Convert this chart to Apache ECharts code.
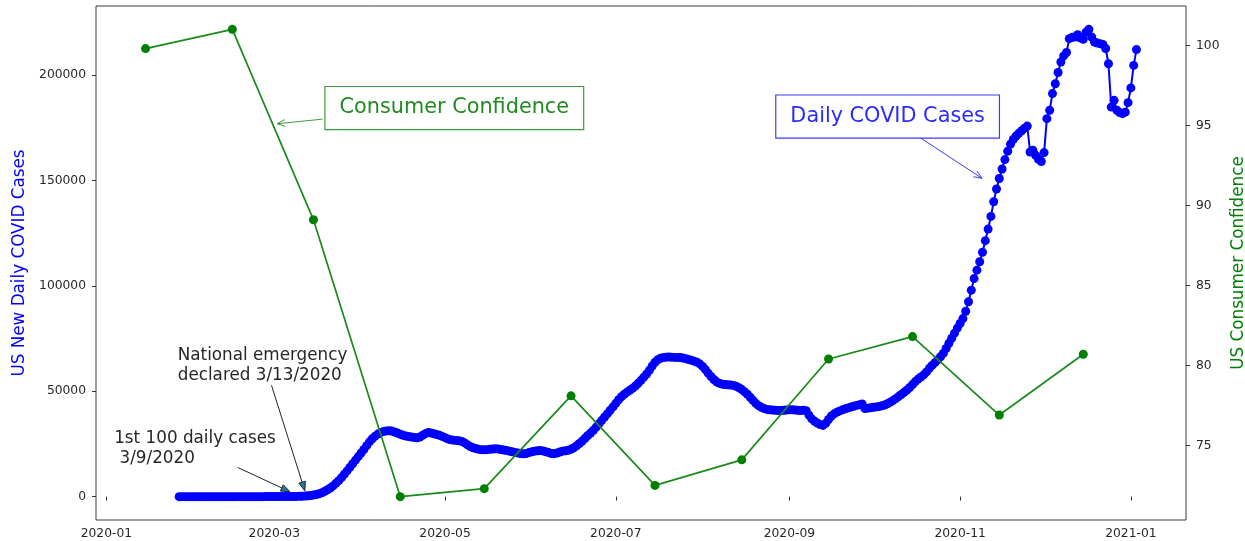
<!DOCTYPE html>
<html lang="en">
<head>
<meta charset="UTF-8">
<title>US daily COVID cases vs consumer confidence</title>
<script src="https://cdn.jsdelivr.net/npm/echarts@6/dist/echarts.min.js"></script>
<style>
  body { margin: 0; background: #fff; }
  #chart { width: 1245px; height: 541px; }
</style>
</head>
<body>
<div id="chart"></div>
<script>
// consumer confidence, one reading per month (plotted mid-month)
var confDates = ['2020-01-15', '2020-02-15', '2020-03-15', '2020-04-15', '2020-05-15', '2020-06-15',
                 '2020-07-15', '2020-08-15', '2020-09-15', '2020-10-15', '2020-11-15', '2020-12-15'];
var confValues = [99.8, 101.0, 89.1, 71.8, 72.3, 78.1, 72.5, 74.1, 80.4, 81.8, 76.9, 80.7];

// US new daily cases (smoothed), one value per day starting 2020-01-27
var casesStart = [2020, 0, 27];
var casesJan = [1, 1, 1, 1, 1];
var casesFeb = [1, 1, 1, 1, 1, 1, 1, 1, 1, 1, 1, 1, 1, 1, 1, 1, 1, 1, 1, 1, 2, 2, 3, 3, 4, 5, 6, 7, 8];
var casesMar = [10, 13, 17, 22, 30, 40, 55, 75, 100, 140, 200, 290, 400, 560, 750, 1000, 1350, 1850, 2500, 3250,
                4100, 5100, 6300, 7600, 9000, 10600, 12200, 13900, 15600, 17300, 19000];
var casesApr = [20700, 22400, 24200, 26000, 27500, 28700, 29700, 30400, 30900, 31200, 31300, 31100, 30700, 30200, 29600,
                29100, 28800, 28500, 28300, 28100, 27900, 28300, 29100, 29900, 30500, 30200, 29800, 29500, 29100, 28600];
var casesMay = [28000, 27400, 27000, 26800, 26700, 26500, 26200, 25500, 24600, 23800, 23200, 22800, 22500, 22300, 22200,
                22300, 22500, 22600, 22700, 22600, 22400, 22100, 21900, 21600, 21300, 21000, 20700, 20500, 20300, 20500, 20900];
var casesJun = [21300, 21600, 21800, 21900, 21700, 21300, 20900, 20500, 20400, 20700, 21200, 21600, 21800, 22000, 22500,
                23200, 24100, 25200, 26400, 27700, 29000, 30200, 31500, 33000, 34600, 36200, 37800, 39400, 41000, 42600];
var casesJul = [44300, 46000, 47400, 48600, 49600, 50500, 51400, 52500, 53800, 55200, 56700, 58200, 60000, 62000, 63800,
                65000, 65700, 66000, 66200, 66300, 66200, 66100, 66100, 66000, 65800, 65500, 65100, 64700, 64300, 63800, 63000];
var casesAug = [61800, 60300, 58600, 57000, 55600, 54500, 53800, 53400, 53200, 53100, 53000, 52800, 52400, 51700, 50800,
                49800, 48600, 47200, 45700, 44300, 43200, 42400, 41800, 41400, 41200, 41100, 41000, 40900, 40900, 41000, 41100];
var casesSep = [41300, 41200, 41100, 41000, 40900, 41000, 40800, 38700, 36900, 35800, 34900, 34200, 33800, 34800, 36600,
                38300, 39300, 40100, 40700, 41200, 41700, 42100, 42500, 42900, 43300, 43600, 44000, 41800, 42000, 42200];
var casesOct = [42400, 42600, 42800, 43100, 43500, 44100, 44800, 45600, 46500, 47500, 48500, 49500, 50600, 51800, 53200,
                54600, 55800, 56800, 57800, 59200, 60900, 62300, 63600, 65000, 66400, 68000, 70300, 72800, 75200, 77600, 80000];
var casesNov = [82200, 84500, 88000, 92500, 98000, 103500, 107500, 111500, 116000, 121500, 127000, 133000, 140000, 146000, 151000,
                155500, 160000, 164000, 167300, 169500, 171200, 172500, 173700, 174900, 175900, 163600, 164400, 162000, 160100, 159100];
var casesDec = [163300, 179400, 183400, 191300, 196000, 201300, 206300, 209200, 210800, 217400, 218000, 218200, 219300, 217700, 217100,
                220500, 221800, 218200, 215800, 215300, 215000, 214600, 212700, 205500, 184900, 188100, 183400, 182300, 181800, 182500, 187000];
var casesJan21 = [194000, 204700, 212200];

// axis ticks
var xTickDates = [[2020, 0, 1], [2020, 2, 1], [2020, 4, 1], [2020, 6, 1], [2020, 8, 1], [2020, 10, 1], [2021, 0, 1]];
var leftTicks = [0, 50000, 100000, 150000, 200000];
var rightTicks = [75, 80, 85, 90, 95, 100];

var FONT = 'DejaVu Sans';
var DAY = 86400000;

var allCases = [].concat(casesJan, casesFeb, casesMar, casesApr, casesMay, casesJun, casesJul,
                         casesAug, casesSep, casesOct, casesNov, casesDec, casesJan21);
var caseData = allCases.map(function (v, i) {
    return [new Date(casesStart[0], casesStart[1], casesStart[2] + i).getTime(), v];
});
var confData = confDates.map(function (d, i) {
    var p = d.split('-');
    return [new Date(+p[0], +p[1] - 1, +p[2]).getTime(), confValues[i]];
});

// matplotlib-like 5% margins around the data
function padRange(lo, hi) { var m = (hi - lo) * 0.05; return [lo - m, hi + m]; }
var xr = padRange(confData[0][0], caseData[caseData.length - 1][0]);
var yl = padRange(0, Math.max.apply(null, allCases));
var yr = padRange(Math.min.apply(null, confValues), Math.max.apply(null, confValues));

var xTicks = xTickDates.map(function (d) { return new Date(d[0], d[1], d[2]).getTime(); });
function ym(v) {
    var d = new Date(v);
    return d.getFullYear() + '-' + String(d.getMonth() + 1).padStart(2, '0');
}

var tickLabel = { color: '#262626', fontSize: 12.3, fontFamily: FONT };

var option = {
    animation: false,
    textStyle: { fontFamily: FONT },
    grid: {
        left: 96, right: 59, top: 6, bottom: 21,
        outerBoundsMode: 'none',
        show: true, borderColor: '#3a3a3a', borderWidth: 1
    },
    xAxis: {
        // dates as plain timestamps so the month ticks can be placed exactly
        type: 'value',
        min: xr[0],
        max: xr[1],
        axisLine: { show: false },
        splitLine: { show: false },
        axisTick: { show: true, length: 4, customValues: xTicks, lineStyle: { color: '#333' } },
        axisLabel: Object.assign({ customValues: xTicks, margin: 8, formatter: ym }, tickLabel)
    },
    yAxis: [{
        type: 'value',
        position: 'left',
        min: yl[0],
        max: yl[1],
        axisLine: { show: false },
        splitLine: { show: false },
        axisTick: { show: true, length: 4, customValues: leftTicks, lineStyle: { color: '#333' } },
        axisLabel: Object.assign({ customValues: leftTicks, margin: 10, formatter: function (v) { return String(v); } }, tickLabel),
        name: 'US New Daily COVID Cases',
        nameLocation: 'middle',
        nameGap: 64,
        nameTextStyle: { color: '#0000ff', fontSize: 16.8, fontFamily: FONT }
    }, {
        type: 'value',
        position: 'right',
        min: yr[0],
        max: yr[1],
        axisLine: { show: false },
        splitLine: { show: false },
        axisTick: { show: true, length: 4, customValues: rightTicks, lineStyle: { color: '#333' } },
        axisLabel: Object.assign({ customValues: rightTicks, margin: 10 }, tickLabel),
        name: 'US Consumer Confidence',
        nameLocation: 'middle',
        nameRotate: 90,
        nameGap: 32,
        nameTextStyle: { color: '#008000', fontSize: 16.8, fontFamily: FONT }
    }],
    series: [{
        name: 'Daily COVID Cases',
        type: 'line',
        yAxisIndex: 0,
        data: caseData,
        symbol: 'circle',
        symbolSize: 9,
        showAllSymbol: true,
        z: 2,
        itemStyle: { color: '#0000ff' },
        lineStyle: { color: '#0000ff', width: 2 }
    }, {
        name: 'Consumer Confidence',
        type: 'line',
        yAxisIndex: 1,
        data: confData,
        symbol: 'circle',
        symbolSize: 9,
        z: 3,
        itemStyle: { color: '#008000' },
        lineStyle: { color: '#1a8a1a', width: 1.7 }
    }]
};

var chart = echarts.init(document.getElementById('chart'));
chart.setOption(option);

// annotations, positions in data coordinates (x = days since 2020-01-01)
var day0 = new Date(2020, 0, 1).getTime();
function pt(d, v, axis) {
    return chart.convertToPixel({ xAxisIndex: 0, yAxisIndex: axis }, [day0 + d * DAY, v]);
}

function arrow(p0, p1, color, filled) {
    var dx = p1[0] - p0[0], dy = p1[1] - p0[1];
    var len = Math.sqrt(dx * dx + dy * dy);
    var ux = dx / len, uy = dy / len;
    var L = filled ? 9 : 8, W = 3.4;
    var bx = p1[0] - ux * L, by = p1[1] - uy * L;
    var a = [bx - uy * W, by + ux * W], b = [bx + uy * W, by - ux * W];
    var out = [];
    if (filled) {
        out.push({ type: 'line', z: 100, shape: { x1: p0[0], y1: p0[1], x2: bx, y2: by }, style: { stroke: color, lineWidth: 1 } });
        out.push({ type: 'polygon', z: 100, shape: { points: [a, p1, b] }, style: { fill: '#1f77b4', stroke: color, lineWidth: 1 } });
    } else {
        out.push({ type: 'line', z: 100, shape: { x1: p0[0], y1: p0[1], x2: p1[0], y2: p1[1] }, style: { stroke: color, lineWidth: 1 } });
        out.push({ type: 'polyline', z: 100, shape: { points: [a, p1, b] }, style: { stroke: color, lineWidth: 1, fill: null } });
    }
    return out;
}

function boxLabel(c, text, color, border) {
    return {
        type: 'text', z: 101, x: c[0], y: c[1],
        style: {
            text: text, fill: color, font: '20.8px "DejaVu Sans"',
            align: 'center', verticalAlign: 'middle', lineHeight: 24,
            backgroundColor: '#fff', borderColor: border, borderWidth: 1.2, padding: [9, 14]
        }
    };
}

function plainLabel(p, text) {
    return {
        type: 'text', z: 101, x: p[0], y: p[1],
        style: { text: text, fill: '#262626', font: '16.8px "DejaVu Sans"', lineHeight: 20, align: 'left', verticalAlign: 'top' }
    };
}

var g = [];
g = g.concat(arrow(pt(77.25, 95.39, 1), pt(61.0, 95.1, 1), '#3c9c3c', false));
g.push(boxLabel(pt(124.3, 96.08, 1), 'Consumer Confidence', '#218a21', '#3c9c3c'));
g = g.concat(arrow(pt(290.6, 170500, 0), pt(312.8, 151100, 0), '#3a3aff', false));
g.push(boxLabel(pt(279.1, 180400, 0), 'Daily COVID Cases', '#2b2bff', '#3a3aff'));
g = g.concat(arrow(pt(59.0, 52820, 0), pt(70.9, 2790, 0), '#222', true));
g.push(plainLabel(pt(25.5, 71760, 0), 'National emergency\ndeclared 3/13/2020'));
g = g.concat(arrow(pt(46.9, 13870, 0), pt(65.6, 2320, 0), '#222', true));
g.push(plainLabel(pt(2.8, 32470, 0), '1st 100 daily cases\n 3/9/2020'));

chart.setOption({ graphic: g });
</script>
</body>
</html>
